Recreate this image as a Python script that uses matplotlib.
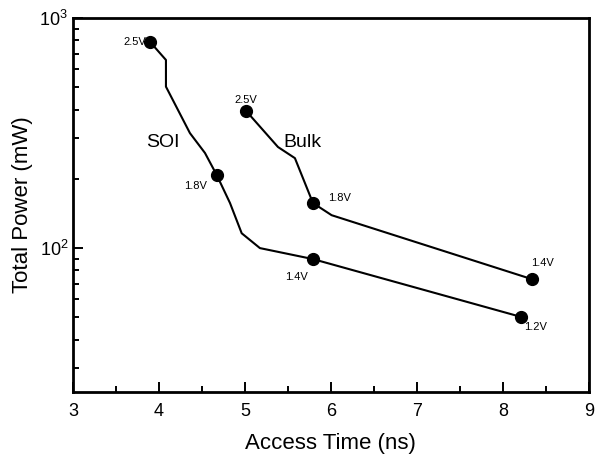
import matplotlib
matplotlib.use("Agg")
import matplotlib.pyplot as plt
from matplotlib.ticker import MultipleLocator, LogLocator, NullFormatter

plt.rcParams['font.family'] = ['Liberation Sans', 'DejaVu Sans']
plt.rcParams['mathtext.default'] = 'regular'

# SOI curve (access time ns, total power mW)
soi_x = [3.895, 4.081, 4.081, 4.36, 4.535, 4.671, 4.826, 4.962, 5.174, 5.791, 8.206]
soi_y = [788, 657, 503, 316, 259, 208, 157, 116, 100, 89.6, 50.3]
soi_mx = [3.895, 4.671, 5.791, 8.206]
soi_my = [788, 208, 89.6, 50.3]
soi_lbl = ["2.5V", "1.8V", "1.4V", "1.2V"]

# Bulk curve
bulk_x = [5.012, 5.384, 5.581, 5.791, 6.008, 8.337]
bulk_y = [395, 275, 246, 157, 139, 73.3]
bulk_mx = [5.012, 5.791, 8.337]
bulk_my = [395, 157, 73.3]
bulk_lbl = ["2.5V", "1.8V", "1.4V"]

fig = plt.figure(figsize=(5.96, 4.61), dpi=100)
ax = fig.add_axes([0.1225, 0.1497, 0.8655, 0.8113])

ax.plot(soi_x, soi_y, color='black', lw=1.5)
ax.plot(soi_mx, soi_my, 'o', color='black', ms=8.5)
ax.plot(bulk_x, bulk_y, color='black', lw=1.5)
ax.plot(bulk_mx, bulk_my, 'o', color='black', ms=8.5)

# voltage labels, offsets in pixels
soi_off = [(-4, 0, 'right'), (-10, -11, 'right'), (-16, -18, 'center'), (15, -10, 'center')]
bulk_off = [(0, 11, 'center'), (27, 5, 'center'), (11, 16, 'center')]
for x, y, t, (dx, dy, ha) in zip(soi_mx, soi_my, soi_lbl, soi_off):
    ax.annotate(t, (x, y), xytext=(dx, dy), textcoords='offset pixels',
                ha=ha, va='center', fontsize=8, fontweight='medium')
for x, y, t, (dx, dy, ha) in zip(bulk_mx, bulk_my, bulk_lbl, bulk_off):
    ax.annotate(t, (x, y), xytext=(dx, dy), textcoords='offset pixels',
                ha=ha, va='center', fontsize=8, fontweight='medium')

ax.text(4.047, 289, "SOI", fontsize=14, ha='center', va='center')
ax.text(5.663, 289, "Bulk", fontsize=14, ha='center', va='center')

ax.set_yscale('log')
ax.set_xlim(3, 9)
ax.set_ylim(23.7, 1000)
ax.xaxis.set_major_locator(MultipleLocator(1))
ax.xaxis.set_minor_locator(MultipleLocator(0.5))
ax.yaxis.set_minor_locator(LogLocator(base=10, subs=range(2, 10), numticks=10))
ax.yaxis.set_minor_formatter(NullFormatter())
ax.set_yticks([100, 1000])
ax.set_yticklabels(['$10^{2}$', '$10^{3}$'])

ax.tick_params(which='both', direction='in', top=False, right=False, labelsize=13, width=1.4)
ax.tick_params(axis='x', pad=8)
ax.tick_params(which='major', length=7)
ax.tick_params(which='minor', length=4)
for s in ax.spines.values():
    s.set_linewidth(2)

ax.set_xlabel("Access Time (ns)", fontsize=16, labelpad=9)
ax.set_ylabel("Total Power (mW)", fontsize=16, labelpad=5)

fig.savefig("out.png", dpi=100)
